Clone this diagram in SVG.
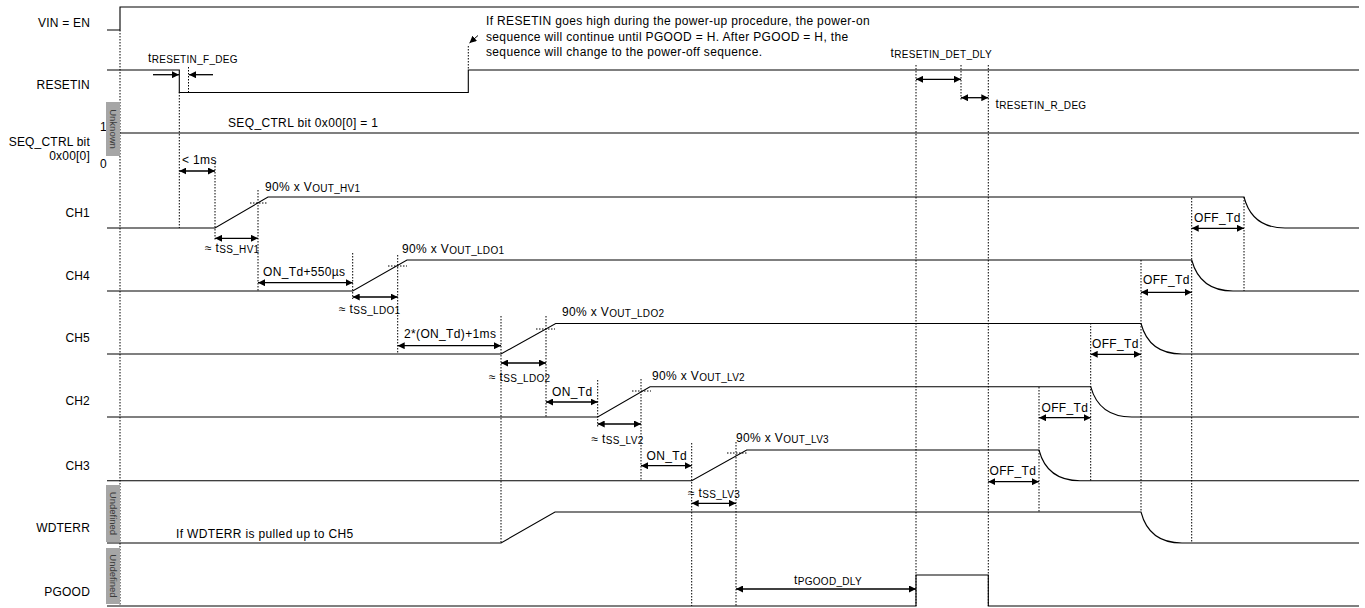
<svg xmlns="http://www.w3.org/2000/svg" width="1365" height="608" viewBox="0 0 1365 608">
<style>
text{font-family:"Liberation Sans",Arial,sans-serif;font-size:12px;fill:#000;letter-spacing:0.35px}
.lbl{text-anchor:end;letter-spacing:0.2px}
.sub{font-size:10px;letter-spacing:0.3px}
.box{fill:#a6a6a6}
.boxt{font-size:9.5px;fill:#3a3a3a;text-anchor:middle;letter-spacing:0}
.sig{fill:none;stroke:#000;stroke-width:1.1}
.dot{fill:none;stroke:#000;stroke-width:1;stroke-dasharray:1.5 1.5}
.arr{fill:none;stroke:#000;stroke-width:1.3;marker-end:url(#ah);marker-start:url(#ah)}
.arr1{fill:none;stroke:#000;stroke-width:1.3;marker-end:url(#ah)}
</style>
<defs>
<marker id="ah" markerUnits="userSpaceOnUse" markerWidth="8" markerHeight="7" refX="7" refY="3.5" orient="auto-start-reverse">
<path d="M0,0 L7,3.5 L0,7 z" fill="#000"/>
</marker>
</defs>
<rect width="1365" height="608" fill="#fff"/>

<g id="guides">
<path class="dot" d="M120,30V606 M179.3,92V228 M188.5,67V92 M215,163V240 M258,190V291 M352.7,253V299 M397.7,255V354 M501,316V543 M546,316V417 M597.7,380V427 M641,379V481 M691.7,443V606 M736,442V606 M916,65V606 M961,65V100 M988.3,65V606 M1039,387V512 M1090.7,323V480.7 M1141,260V512 M1191.7,198V543 M1244,197V291 M468.3,46V70"/>
<path class="dot" d="M250,203H268 M388,266H407 M536,329H555 M632,391H651 M727,453H747"/>
</g>

<g id="sig-vin">
<text class="lbl" x="90" y="27">VIN = EN</text>
<path class="sig" d="M107,30H120V7H1359"/>
</g>

<g id="sig-resetin">
<text class="lbl" x="90" y="89">RESETIN</text>
<path class="sig" d="M107,70H179.3V92.5H468.3V70H1359"/>
</g>

<g id="sig-seqctrl">
<text class="lbl" x="90" y="146">SEQ_CTRL bit</text>
<text class="lbl" x="90" y="160">0x00[0]</text>
<text x="100" y="131">1</text>
<text x="100" y="168">0</text>
<rect class="box" x="106" y="102" width="14" height="54"/>
<text class="boxt" transform="translate(109.5,129) rotate(90)">Unknown</text>
<path class="sig" d="M120,133H1359"/>
<text x="228" y="127">SEQ_CTRL bit 0x00[0] = 1</text>
</g>

<g id="sig-ch1">
<text class="lbl" x="90" y="217">CH1</text>
<path class="sig" d="M107,228H215L268,197H1244Q1252,228 1285,228H1359"/>
</g>

<g id="sig-ch4">
<text class="lbl" x="90" y="280">CH4</text>
<path class="sig" d="M107,291H352.7L407,260H1191.7Q1200,291 1233,291H1359"/>
</g>

<g id="sig-ch5">
<text class="lbl" x="90" y="342">CH5</text>
<path class="sig" d="M107,354H501L555.7,323.5H1141Q1149,354 1182,354H1359"/>
</g>

<g id="sig-ch2">
<text class="lbl" x="90" y="405">CH2</text>
<path class="sig" d="M107,417H597.7L650,386.7H1090.7Q1099,417 1131.7,417H1359"/>
</g>

<g id="sig-ch3">
<text class="lbl" x="90" y="470">CH3</text>
<path class="sig" d="M107,480.7H691.7L746.7,450H1039Q1047,480.7 1080,480.7H1359"/>
</g>

<g id="sig-wdterr">
<text class="lbl" x="90" y="532">WDTERR</text>
<rect class="box" x="106" y="485" width="14" height="57"/>
<text class="boxt" transform="translate(109.5,513.5) rotate(90)">Undefined</text>
<path class="sig" d="M107,543H501L555,512H1141Q1149,543 1182,543H1359"/>
<text x="176" y="538">If WDTERR is pulled up to CH5</text>
</g>

<g id="sig-pgood">
<text class="lbl" x="90" y="596">PGOOD</text>
<rect class="box" x="106" y="548" width="14" height="56"/>
<text class="boxt" transform="translate(109.5,576) rotate(90)">Undefined</text>
<path class="sig" d="M107,606H916V575H988.3V606H1359"/>
</g>

<g id="connectors">
<path class="arr1" d="M153,74.7H179"/>
<path class="arr1" d="M213,74.7H189"/>
<path class="arr" d="M916,79.3H961"/>
<path class="arr" d="M961,97.7H988.3"/>
<path class="arr" d="M179.3,171H215"/>
<path class="arr" d="M215,238.3H258"/>
<path class="arr" d="M258,282.7H352.7"/>
<path class="arr" d="M352.7,297H397.7"/>
<path class="arr" d="M397.7,345.7H501"/>
<path class="arr" d="M501,363H546"/>
<path class="arr" d="M546,402H597.7"/>
<path class="arr" d="M597.7,424H641"/>
<path class="arr" d="M641,465.7H691.7"/>
<path class="arr" d="M691.7,503.3H736"/>
<path class="arr" d="M736,589H916"/>
<path class="arr" d="M988.3,481.7H1039"/>
<path class="arr" d="M1039,417.7H1090.7"/>
<path class="arr" d="M1090.7,354.3H1141"/>
<path class="arr" d="M1141,292.3H1191.7"/>
<path class="arr" d="M1191.7,228.3H1244"/>
<path class="arr1" d="M478,35.5L469.5,43" style="stroke-width:1"/>
</g>

<g id="labels">
<text x="148" y="62">t<tspan class="sub" dy="1">RESETIN_F_DEG</tspan></text>
<text x="890.5" y="57">t<tspan class="sub" dy="1">RESETIN_DET_DLY</tspan></text>
<text x="995.5" y="108">t<tspan class="sub" dy="1">RESETIN_R_DEG</tspan></text>
<text x="486" y="25">If RESETIN goes high during the power-up procedure, the power-on</text>
<text x="486" y="40.5">sequence will continue until PGOOD = H. After PGOOD = H, the</text>
<text x="486" y="56">sequence will change to the power-off sequence.</text>
<text x="182" y="164">&lt; 1ms</text>
<text x="265" y="191">90% x V<tspan class="sub" dy="1">OUT_HV1</tspan></text>
<text x="205" y="252">≈ t<tspan class="sub" dy="1">SS_HV1</tspan></text>
<text x="263" y="276">ON_Td+550µs</text>
<text x="402" y="253">90% x V<tspan class="sub" dy="1">OUT_LDO1</tspan></text>
<text x="339" y="313">≈ t<tspan class="sub" dy="1">SS_LDO1</tspan></text>
<text x="404" y="338">2*(ON_Td)+1ms</text>
<text x="562" y="316">90% x V<tspan class="sub" dy="1">OUT_LDO2</tspan></text>
<text x="489" y="381">≈ t<tspan class="sub" dy="1">SS_LDO2</tspan></text>
<text x="552" y="396">ON_Td</text>
<text x="652" y="380">90% x V<tspan class="sub" dy="1">OUT_LV2</tspan></text>
<text x="591.5" y="443">≈ t<tspan class="sub" dy="1">SS_LV2</tspan></text>
<text x="646.5" y="460">ON_Td</text>
<text x="736" y="442">90% x V<tspan class="sub" dy="1">OUT_LV3</tspan></text>
<text x="688" y="497">≈ t<tspan class="sub" dy="1">SS_LV3</tspan></text>
<text x="794" y="584">t<tspan class="sub" dy="1">PGOOD_DLY</tspan></text>
<text x="989.5" y="475">OFF_Td</text>
<text x="1041.5" y="412">OFF_Td</text>
<text x="1092" y="348">OFF_Td</text>
<text x="1143" y="284">OFF_Td</text>
<text x="1194" y="222">OFF_Td</text>
</g>
</svg>
